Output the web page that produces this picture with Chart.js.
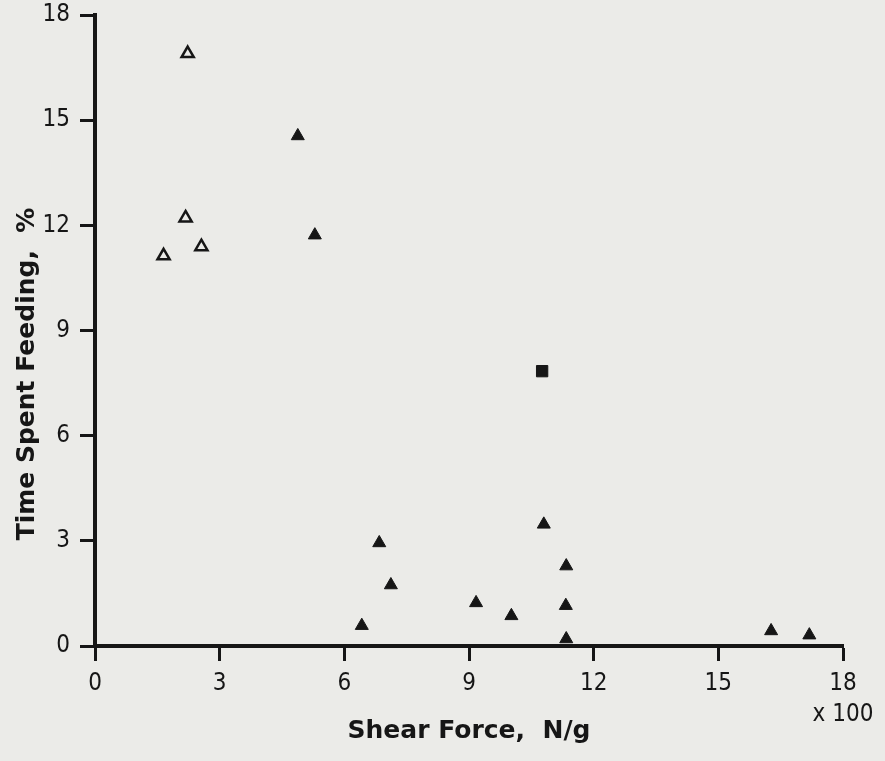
<!DOCTYPE html>
<html>
<head>
<meta charset="utf-8">
<title>Time spent feeding vs shear force</title>
<script src="https://cdn.jsdelivr.net/npm/chart.js@4.4.0/dist/chart.umd.min.js"></script>
<style>
  html, body { margin: 0; padding: 0; background: #ebebe8; }
  #chart { display: block; }
</style>
</head>
<body>
<canvas id="chart" width="885" height="761"></canvas>
<script>
// open triangles
const openX = [2.23, 2.18, 2.56, 1.65];
const openY = [16.9, 12.21, 11.39, 11.13];

// filled triangles
const filledX = [4.88, 5.29, 6.84, 7.12, 6.42, 10.80, 11.34, 9.17, 10.02, 11.33, 11.34, 16.27, 17.19];
const filledY = [14.55, 11.72, 2.94, 1.74, 0.58, 3.47, 2.28, 1.23, 0.86, 1.15, 0.2, 0.43, 0.31];

// filled square
const squareX = [10.76];
const squareY = [7.84];

const xTicks = [0, 3, 6, 9, 12, 15, 18];
const yTicks = [0, 3, 6, 9, 12, 15, 18];

const xTitle = 'Shear Force,  N/g';
const yTitle = 'Time Spent Feeding,  %';
const xMultiplier = 'x 100';

const bg = '#ebebe8';
const ink = '#161616';
const tickFont = "'Liberation Sans Narrow', 'DejaVu Sans Condensed', sans-serif";

const toPoints = (xs, ys) => xs.map((x, i) => ({ x: x, y: ys[i] }));

// draws the axis titles and the "x 100" note
const labelsPlugin = {
  id: 'labels',
  beforeDraw(chart) {
    const ctx = chart.ctx;
    ctx.save();
    ctx.fillStyle = bg;
    ctx.fillRect(0, 0, chart.width, chart.height);
    ctx.restore();
  },
  afterDraw(chart) {
    const ctx = chart.ctx;
    const area = chart.chartArea;
    ctx.save();
    ctx.fillStyle = ink;
    ctx.textAlign = 'center';
    ctx.textBaseline = 'middle';

    ctx.font = "bold 25px 'DejaVu Sans', sans-serif";
    ctx.fillText(xTitle, (area.left + area.right) / 2, 731);

    ctx.save();
    ctx.translate(27, 374);
    ctx.rotate(-Math.PI / 2);
    ctx.fillText(yTitle, 0, 0);
    ctx.restore();

    ctx.font = '24px ' + tickFont;
    ctx.fillText(xMultiplier, area.right, 715);
    ctx.restore();
  }
};

new Chart(document.getElementById('chart'), {
  type: 'scatter',
  data: {
    datasets: [
      {
        data: toPoints(openX, openY),
        pointStyle: 'triangle',
        pointRadius: 7,
        backgroundColor: bg,
        borderColor: ink,
        borderWidth: 2.5
      },
      {
        data: toPoints(filledX, filledY),
        pointStyle: 'triangle',
        pointRadius: 7.5,
        backgroundColor: ink,
        borderColor: ink,
        borderWidth: 1
      },
      {
        data: toPoints(squareX, squareY),
        pointStyle: 'rect',
        pointRadius: 8,
        backgroundColor: ink,
        borderColor: ink,
        borderWidth: 1
      }
    ]
  },
  options: {
    responsive: false,
    devicePixelRatio: 1,
    animation: false,
    layout: { padding: { top: 0, right: 42, bottom: 0, left: 0 } },
    plugins: {
      legend: { display: false },
      tooltip: { enabled: false }
    },
    scales: {
      x: {
        type: 'linear',
        min: 0,
        max: 18,
        afterBuildTicks: (scale) => { scale.ticks = xTicks.map(v => ({ value: v })); },
        afterFit: (scale) => { scale.height = 115; },
        border: { display: true, color: ink, width: 4 },
        grid: { drawOnChartArea: false, drawTicks: true, tickLength: 15, tickColor: ink, tickWidth: 3 },
        ticks: { color: ink, padding: 8, font: { family: tickFont, size: 24 } }
      },
      y: {
        type: 'linear',
        min: 0,
        max: 18,
        afterBuildTicks: (scale) => { scale.ticks = yTicks.map(v => ({ value: v })); },
        afterFit: (scale) => {
          scale.width = 95;
          scale.paddingTop = 15;
          scale.paddingBottom = 0;
        },
        border: { display: true, color: ink, width: 4 },
        grid: { drawOnChartArea: false, drawTicks: true, tickLength: 15, tickColor: ink, tickWidth: 3 },
        ticks: { color: ink, padding: 10, font: { family: tickFont, size: 24 } }
      }
    }
  },
  plugins: [labelsPlugin]
});
</script>
</body>
</html>
